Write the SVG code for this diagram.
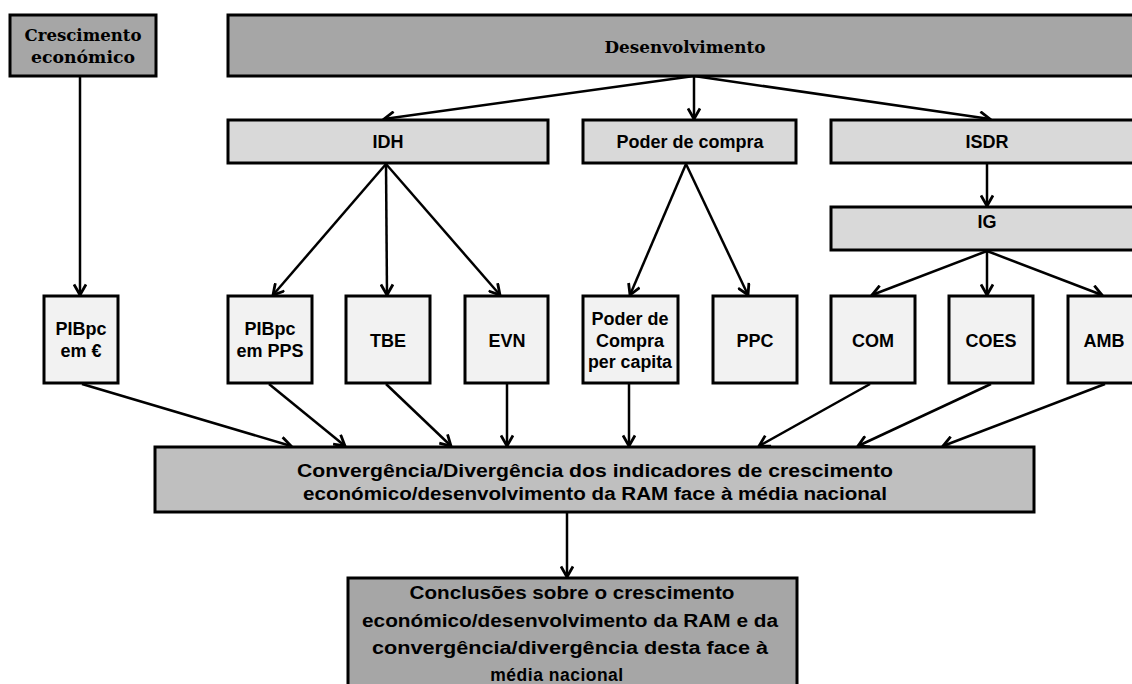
<svg xmlns="http://www.w3.org/2000/svg" width="1132" height="684" viewBox="0 0 1132 684">
<style>
.box{stroke:#000;stroke-width:3}
.dk{fill:#a6a6a6}
.md{fill:#bfbfbf}
.lt{fill:#d9d9d9}
.wh{fill:#f2f2f2}
.sans{font-family:"Liberation Sans",Arial,sans-serif;font-weight:bold;fill:#000;text-anchor:middle}
.serif{font-family:"DejaVu Serif","Liberation Serif",serif;font-weight:bold;fill:#000;text-anchor:middle}
.t17{font-size:18px}
.big{font-size:17.5px}
.con{fill:none;stroke:#000;stroke-width:2.5}
</style>
<defs>
<marker id="arr" viewBox="0 0 14 14" refX="12" refY="7" markerWidth="14" markerHeight="14" markerUnits="userSpaceOnUse" orient="auto">
<path d="M1.5,1 L12,7 L1.5,13" fill="none" stroke="#000" stroke-width="2.8"/>
</marker>
</defs>
<rect width="1132" height="684" fill="#fff"/>

<g id="connectors" class="con">
<line x1="80" y1="77" x2="80" y2="295" marker-end="url(#arr)"/>
<line x1="694" y1="76" x2="384" y2="119" marker-end="url(#arr)"/>
<line x1="694" y1="76" x2="694" y2="119" marker-end="url(#arr)"/>
<line x1="694" y1="76" x2="990" y2="119" marker-end="url(#arr)"/>
<line x1="987" y1="164" x2="987" y2="206" marker-end="url(#arr)"/>
<line x1="386" y1="164" x2="273" y2="295" marker-end="url(#arr)"/>
<line x1="386" y1="164" x2="387" y2="295" marker-end="url(#arr)"/>
<line x1="386" y1="164" x2="500" y2="295" marker-end="url(#arr)"/>
<line x1="686" y1="164" x2="630" y2="295" marker-end="url(#arr)"/>
<line x1="686" y1="164" x2="748" y2="295" marker-end="url(#arr)"/>
<line x1="987" y1="251" x2="872" y2="295" marker-end="url(#arr)"/>
<line x1="987" y1="251" x2="987" y2="295" marker-end="url(#arr)"/>
<line x1="987" y1="251" x2="1102" y2="295" marker-end="url(#arr)"/>
<line x1="82" y1="384" x2="291" y2="446" marker-end="url(#arr)"/>
<line x1="269" y1="384" x2="345" y2="446" marker-end="url(#arr)"/>
<line x1="386" y1="384" x2="451" y2="446" marker-end="url(#arr)"/>
<line x1="507" y1="384" x2="507" y2="446" marker-end="url(#arr)"/>
<line x1="629" y1="384" x2="629" y2="446" marker-end="url(#arr)"/>
<line x1="870" y1="384" x2="759" y2="446" marker-end="url(#arr)"/>
<line x1="991" y1="384" x2="858" y2="446" marker-end="url(#arr)"/>
<line x1="1105" y1="384" x2="943" y2="446" marker-end="url(#arr)"/>
<line x1="567" y1="513" x2="567" y2="577" marker-end="url(#arr)"/>
</g>

<g id="crescimento">
<rect class="box dk" x="10" y="15" width="146" height="61"/>
<text class="serif" x="83" y="41" font-size="17" textLength="117" lengthAdjust="spacingAndGlyphs">Crescimento</text>
<text class="serif" x="83" y="63" font-size="17" textLength="104" lengthAdjust="spacingAndGlyphs">económico</text>
</g>

<g id="desenvolvimento">
<rect class="box dk" x="228" y="15" width="906" height="61"/>
<text class="serif" x="685" y="53" font-size="17" textLength="161" lengthAdjust="spacingAndGlyphs">Desenvolvimento</text>
</g>

<g id="idh">
<rect class="box lt" x="228" y="120" width="320" height="43"/>
<text class="sans t17" x="388" y="148">IDH</text>
</g>
<g id="poder">
<rect class="box lt" x="583" y="120" width="213" height="43"/>
<text class="sans t17" x="690" y="148" textLength="147" lengthAdjust="spacingAndGlyphs">Poder de compra</text>
</g>
<g id="isdr">
<rect class="box lt" x="831" y="120" width="303" height="43"/>
<text class="sans t17" x="987" y="148">ISDR</text>
</g>
<g id="ig">
<rect class="box lt" x="831" y="207" width="303" height="43"/>
<text class="sans t17" x="987" y="228">IG</text>
</g>

<g id="pibpc-euro">
<rect class="box wh" x="44" y="296" width="74" height="87"/>
<text class="sans t17" x="81" y="335">PIBpc</text>
<text class="sans t17" x="81" y="357">em €</text>
</g>
<g id="pibpc-pps">
<rect class="box wh" x="228" y="296" width="84" height="87"/>
<text class="sans t17" x="270" y="335">PIBpc</text>
<text class="sans t17" x="270" y="357">em PPS</text>
</g>
<g id="tbe">
<rect class="box wh" x="346" y="296" width="84" height="87"/>
<text class="sans t17" x="388" y="347">TBE</text>
</g>
<g id="evn">
<rect class="box wh" x="465" y="296" width="83" height="87"/>
<text class="sans t17" x="507" y="347">EVN</text>
</g>
<g id="poder-pc">
<rect class="box wh" x="583" y="296" width="95" height="87"/>
<text class="sans t17" x="630" y="325">Poder de</text>
<text class="sans t17" x="630" y="347">Compra</text>
<text class="sans t17" x="630" y="368" textLength="84" lengthAdjust="spacingAndGlyphs">per capita</text>
</g>
<g id="ppc">
<rect class="box wh" x="713" y="296" width="84" height="87"/>
<text class="sans t17" x="755" y="347">PPC</text>
</g>
<g id="com">
<rect class="box wh" x="831" y="296" width="84" height="87"/>
<text class="sans t17" x="873" y="347">COM</text>
</g>
<g id="coes">
<rect class="box wh" x="949" y="296" width="84" height="87"/>
<text class="sans t17" x="991" y="347">COES</text>
</g>
<g id="amb">
<rect class="box wh" x="1068" y="296" width="70" height="87"/>
<text class="sans t17" x="1104" y="347">AMB</text>
</g>

<g id="convergencia">
<rect class="box md" x="155" y="447" width="879" height="65"/>
<text class="sans big" x="595" y="477" textLength="596" lengthAdjust="spacingAndGlyphs">Convergência/Divergência dos indicadores de crescimento</text>
<text class="sans big" x="595" y="500" textLength="584" lengthAdjust="spacingAndGlyphs">económico/desenvolvimento da RAM face à média nacional</text>
</g>

<g id="conclusoes">
<rect class="box dk" x="348" y="578" width="449" height="120"/>
<text class="sans big" x="572" y="599" textLength="325" lengthAdjust="spacingAndGlyphs">Conclusões sobre o crescimento</text>
<text class="sans big" x="570" y="627" textLength="416" lengthAdjust="spacingAndGlyphs">económico/desenvolvimento da RAM e da</text>
<text class="sans big" x="570" y="654" textLength="396" lengthAdjust="spacingAndGlyphs">convergência/divergência desta face à</text>
<text class="sans big" x="557" y="681" letter-spacing="0.5">média nacional</text>
</g>
</svg>
